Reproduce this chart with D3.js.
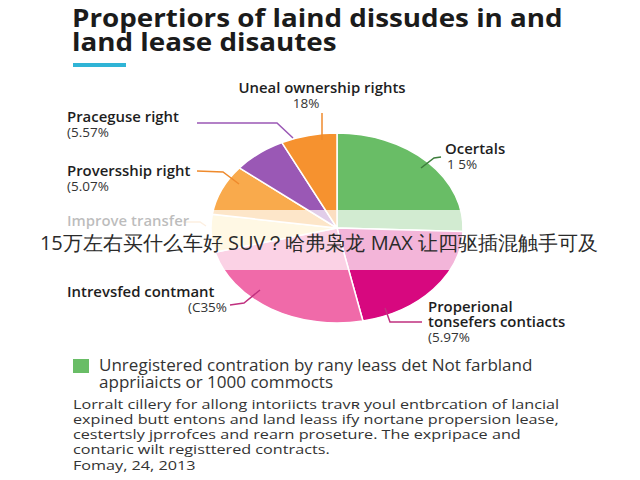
<!DOCTYPE html>
<html>
<head>
<meta charset="utf-8">
<script src="https://cdn.jsdelivr.net/npm/d3@7/dist/d3.min.js"></script>
<style>
  html, body { margin: 0; padding: 0; background: #fff; }
  svg { display: block; }
  text { font-family: "Open Sans", "Noto Sans", sans-serif; }
</style>
</head>
<body>
<svg id="chart" width="640" height="480"></svg>
<script>
// ---- data ----
const titleLines = ["Propertiors of laind dissudes in and", "land lease disautes"];
const categories = ["Ocertals", "Properional tonsefers contiacts", "Intrevsfed contmant",
                    "Improve transfer", "Proversship right", "Praceguse right", "Uneal ownership rights"];
const shares = [25.6, 21.1, 24.2, 6.4, 8.6, 6.9, 7.2];   // slice sizes estimated from angles
const pctLabels = ["1 5%", "(5.97%", "(C35%", "", "(5.07%", "(5.57%", "18%"];
const colors = ["#69bd66", "#d7087f", "#f06aa9", "#fde6a6", "#f9aa4c", "#9a58b5", "#f6922f"];
const legendLines = ["Unregistered contration by rany leass det Not farbland", "appriiaicts or 1000 commocts"];
const noteLines = [
  "Lorralt cillery for allong intoriicts trav\u0280 youl entbrcation of lancial",
  "expined butt entons and land leass ify nortane propersion lease,",
  "cestertsly jprrofces and rearn proseture. The expripace and",
  "contaric wilt registtered contracts."
];
const dateLine = "Fomay, 24, 2013";
const bannerText = "15万左右买什么车好 SUV？哈弗枭龙 MAX 让四驱插混触手可及";

const svg = d3.select("#chart");

// ---- title ----
const title = svg.append("g").attr("transform", "translate(72,0) scale(1.09,1)");
title.selectAll("text").data(titleLines).join("text")
  .attr("x", 0).attr("y", (d, i) => 27 + i * 24)
  .attr("font-size", 25.5).attr("font-weight", 700).attr("fill", "#1b1b1b")
  .text(d => d);
svg.append("rect").attr("x", 73).attr("y", 63).attr("width", 53).attr("height", 4).attr("fill", "#2fb4d6");

// ---- pie ----
const cx = 337, cy = 228, rx = 126, ry = 95;
const pie = d3.pie().sort(null).value(d => d);
const arcs = pie(shares);
const arc = d3.arc().innerRadius(0).outerRadius(rx);
const pg = svg.append("g").attr("transform", `translate(${cx},${cy}) scale(1,${ry / rx})`);
pg.selectAll("path").data(arcs).join("path")
  .attr("d", arc)
  .attr("fill", (d, i) => colors[i])
  .attr("stroke", "#fff").attr("stroke-width", 1.5)
  .attr("vector-effect", "non-scaling-stroke");

// ---- leader lines (annotation layout) ----
const leaders = [
  { pts: [[441, 157], [434, 158], [421, 168]], color: "#3d7d3c" },           // Ocertals
  { pts: [[385, 308], [390, 322], [422, 322]], color: "#c0307f" },           // Properional
  { pts: [[230, 305], [244, 303], [260, 290]], color: "#c0307f" },           // Intrevsfed
  { pts: [[183, 222], [200, 222], [206, 226]], color: "#f5c89a" },           // Improve
  { pts: [[197, 171], [223, 172], [239, 184]], color: "#ef8a2c" },           // Proversship
  { pts: [[197, 123], [277, 123], [293, 138]], color: "#9a58b5" },           // Praceguse
  { pts: [[322, 113], [322, 140]], color: "#ef8a2c" }                        // Uneal
];
const line = d3.line();
svg.append("g").selectAll("path").data(leaders).join("path")
  .attr("d", d => line(d.pts)).attr("fill", "none")
  .attr("stroke", d => d.color).attr("stroke-width", 1.5);

// ---- slice labels ----
const labelPos = [
  { x: 445, y: 154, anchor: "start", lines: ["Ocertals"], px: 447, py: 169, panchor: "start" },
  { x: 428, y: 312, anchor: "start", lines: ["Properional", "tonsefers contiacts"], px: 428, py: 342, panchor: "start" },
  { x: 67, y: 297, anchor: "start", lines: ["Intrevsfed contmant"], px: 227, py: 312, panchor: "end" },
  { x: 67, y: 226, anchor: "start", lines: ["Improve transfer"], px: 67, py: 241, panchor: "start" },
  { x: 67, y: 176, anchor: "start", lines: ["Proversship right"], px: 67, py: 191, panchor: "start" },
  { x: 67, y: 122, anchor: "start", lines: ["Praceguse right"], px: 67, py: 137, panchor: "start" },
  { x: 322, y: 93, anchor: "middle", lines: ["Uneal ownership rights"], px: 306, py: 108, panchor: "middle" }
];
const lg = svg.append("g");
labelPos.forEach((p, i) => {
  p.lines.forEach((t, j) => {
    lg.append("text").attr("x", p.x).attr("y", p.y + j * 15)
      .attr("text-anchor", p.anchor)
      .attr("font-size", 14.5).attr("font-weight", 600).attr("fill", "#1e1e1e")
      .attr("transform", `translate(${p.x},0) scale(1.03,1) translate(${-p.x},0)`)
      .text(t);
  });
  if (pctLabels[i]) {
    lg.append("text").attr("x", p.px).attr("y", p.py).attr("text-anchor", p.panchor)
      .attr("font-size", 13.5).attr("fill", "#333").text(pctLabels[i]);
  }
});

// ---- overlay banner ----
svg.append("rect").attr("x", 0).attr("y", 210).attr("width", 640).attr("height", 60)
  .attr("fill", "#fff").attr("opacity", 0.7);
svg.append("text").attr("x", 319).attr("y", 250).attr("text-anchor", "middle")
  .attr("font-family", "'Noto Sans CJK SC', sans-serif").attr("font-size", 20)
  .attr("fill", "#2a2a2a").text(bannerText);

// ---- legend ----
svg.append("rect").attr("x", 73).attr("y", 359).attr("width", 16).attr("height", 14).attr("fill", colors[0]);
svg.append("g").attr("transform", "translate(99,0) scale(1.1,1)")
  .selectAll("text").data(legendLines).join("text")
  .attr("x", 0).attr("y", (d, i) => 371 + i * 17)
  .attr("font-size", 15.5).attr("fill", "#333").text(d => d);

// ---- note ----
const note = svg.append("g").attr("transform", "translate(73,0) scale(1.2,1)");
note.selectAll("text").data(noteLines).join("text")
  .attr("x", 0).attr("y", (d, i) => 409 + i * 15)
  .attr("font-size", 13.5).attr("fill", "#333").text(d => d);
note.append("text").attr("x", 0).attr("y", 470).attr("font-size", 13.5).attr("fill", "#333").text(dateLine);
</script>
</body>
</html>
